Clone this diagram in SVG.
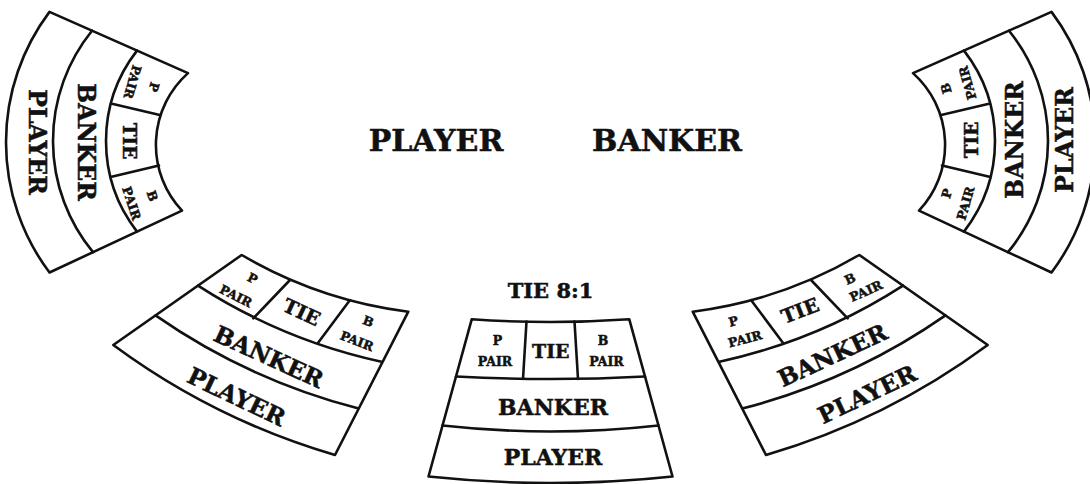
<svg xmlns="http://www.w3.org/2000/svg" width="1090" height="484" viewBox="0 0 1090 484">
<style>
.ln{fill:none;stroke:#111;stroke-width:2.6;stroke-linejoin:round;stroke-linecap:round}
.bg{fill:#fff;stroke:#111;stroke-width:2.6;stroke-linejoin:round}
.t{font-family:"DejaVu Serif","Liberation Serif",serif;font-weight:bold;fill:#111;stroke:#111;stroke-width:0.5;text-anchor:middle}
.s{font-size:12.5px}
.m{font-size:18.5px}
.l{font-size:23.5px}
</style>
<rect width="1090" height="484" fill="#fff"/>

<g id="label-player">
<text class="t" x="436" y="151" font-size="30">PLAYER</text>
</g>
<g id="label-banker">
<text class="t" x="667" y="151" font-size="30">BANKER</text>
</g>

<g id="panel-left-top">
<path class="bg" d="M49.5,11.9 L188,73.1 A96.1,96.1 0 0 0 182,210.6 L49.5,272.5 A216.9,216.9 0 0 1 49.5,11.9 Z"/>
<path class="ln" d="M92,30.7 A175,175 0 0 0 93,252.2 M137,50.6 A147.6,147.6 0 0 0 137,231.6 M111,103.5 L159.8,115 M110.6,177 L159,165.5"/>
<text class="t s" transform="translate(154,87) rotate(106)" y="4.5">P</text>
<text class="t s" transform="translate(132.5,82) rotate(106)" y="4.5">PAIR</text>
<text class="t m" transform="translate(130,141) rotate(90)" y="6.7">TIE</text>
<text class="t s" transform="translate(152.5,196) rotate(72)" y="4.5">B</text>
<text class="t s" transform="translate(131.7,203.3) rotate(72)" y="4.5">PAIR</text>
<text class="t l" transform="translate(86.5,142) rotate(90)" y="8.6">BANKER</text>
<text class="t l" transform="translate(38,142) rotate(90)" y="8.6">PLAYER</text>
</g>

<g id="panel-right-top">
<g transform="matrix(-1,0,0,1,1101,0)">
<path class="bg" d="M49.5,11.9 L188,73.1 A96.1,96.1 0 0 0 182,210.6 L49.5,272.5 A216.9,216.9 0 0 1 49.5,11.9 Z"/>
<path class="ln" d="M92,30.7 A175,175 0 0 0 93,252.2 M137,50.6 A147.6,147.6 0 0 0 137,231.6 M111,103.5 L159.8,115 M110.6,177 L159,165.5"/>
</g>
<text class="t s" transform="translate(946,88.3) rotate(-106)" y="4.5">B</text>
<text class="t s" transform="translate(967.5,83) rotate(-106)" y="4.5">PAIR</text>
<text class="t m" transform="translate(971.5,140) rotate(-90)" y="6.7">TIE</text>
<text class="t s" transform="translate(946.7,193.5) rotate(-74)" y="4.5">P</text>
<text class="t s" transform="translate(965.5,203.3) rotate(-74)" y="4.5">PAIR</text>
<text class="t l" transform="translate(1014,140) rotate(-90)" y="8.6">BANKER</text>
<text class="t l" transform="translate(1064,140) rotate(-90)" y="8.6">PLAYER</text>
</g>

<g id="panel-left-bottom">
<path class="bg" d="M241.7,255 Q319.2,300.4 408.3,311.7 L335,455 Q214.4,419.7 113.3,345 Z"/>
<path class="ln" d="M198,285.6 Q282.9,340.3 381.5,361.7 M155.5,315.4 Q248.3,380 357.8,408.3 M290,280 L253.3,318.3 M350,300 L318.3,342.5"/>
<text class="t s" transform="translate(252.5,278.5) rotate(27)" y="4.5">P</text>
<text class="t s" transform="translate(236,296) rotate(27)" y="4.5">PAIR</text>
<text class="t" font-size="19.5" transform="translate(301.7,312) rotate(25)" y="7.1">TIE</text>
<text class="t s" transform="translate(368.3,321.2) rotate(21)" y="4.5">B</text>
<text class="t s" transform="translate(357,341) rotate(21)" y="4.5">PAIR</text>
<text class="t l" transform="translate(269,356.5) rotate(24.5)" y="8.6">BANKER</text>
<text class="t l" transform="translate(236.7,396.5) rotate(25.5)" y="8.6">PLAYER</text>
</g>

<g id="panel-right-bottom">
<g transform="matrix(-1,0,0,1,1101,0)">
<path class="bg" d="M241.7,255 Q319.2,300.4 408.3,311.7 L335,455 Q214.4,419.7 113.3,345 Z"/>
<path class="ln" d="M198,285.6 Q282.9,340.3 381.5,361.7 M155.5,315.4 Q248.3,380 357.8,408.3 M290,280 L253.3,318.3 M350,300 L318.3,342.5"/>
</g>
<text class="t s" transform="translate(733.3,321.2) rotate(-15)" y="4.5">P</text>
<text class="t s" transform="translate(745,338.8) rotate(-15)" y="4.5">PAIR</text>
<text class="t" font-size="19.5" transform="translate(800,310.5) rotate(-21)" y="7.1">TIE</text>
<text class="t s" transform="translate(850,278.8) rotate(-24)" y="4.5">B</text>
<text class="t s" transform="translate(866,291) rotate(-24)" y="4.5">PAIR</text>
<text class="t l" transform="translate(832.3,355) rotate(-25)" y="8.6">BANKER</text>
<text class="t l" transform="translate(867,394) rotate(-25.5)" y="8.6">PLAYER</text>
</g>

<g id="panel-center">
<text class="t" x="550.5" y="298" font-size="21">TIE 8:1</text>
<path class="bg" d="M471.7,319.3 Q550.5,324.7 629.3,319.3 L672.5,476.5 Q550.5,489.5 428.5,476.5 Z"/>
<path class="ln" d="M456,376.5 Q550.5,381.5 645,376.5 M442.5,425.5 Q550.5,437.5 658.5,425.5 M526.5,321.5 L523,379 M574.5,321.5 L578,379"/>
<text class="t s" x="497.5" y="345">P</text>
<text class="t s" x="495" y="366">PAIR</text>
<text class="t" x="550.8" y="357.5" font-size="19">TIE</text>
<text class="t s" x="603" y="345">B</text>
<text class="t s" x="606.5" y="366">PAIR</text>
<text class="t" x="553" y="415" font-size="22">BANKER</text>
<text class="t" x="553" y="465" font-size="22">PLAYER</text>
</g>
</svg>
